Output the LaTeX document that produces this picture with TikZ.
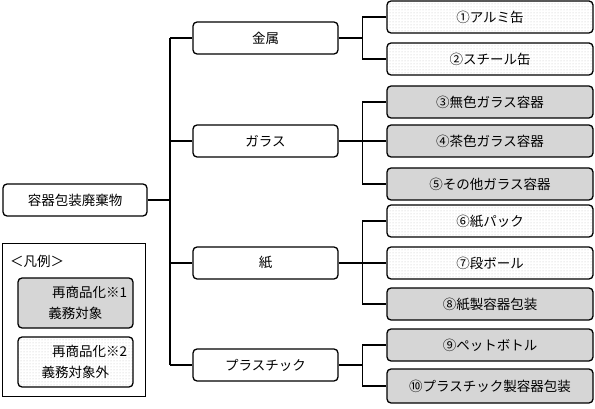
\documentclass[tikz,border=0pt]{standalone}
\usepackage{fontspec}
\setmainfont{Noto Sans CJK JP}
\usetikzlibrary{patterns,calc}

\begin{document}
\begin{tikzpicture}[
    x=1pt, y=-1pt,
    font=\fontsize{13.5}{16}\selectfont,
    box/.style={
        draw,
        rounded corners=4pt,
        line width=1.3pt,
        minimum height=32pt,
        inner sep=2pt,
        align=center
    },
    rootbox/.style={box, minimum width=144pt, fill=white},
    catbox/.style={box, minimum width=145pt, fill=white},
    dotbox/.style={box, minimum width=206pt, pattern=dots, pattern color=black!25},
    graybox/.style={box, minimum width=206pt, fill=black!16},
    link/.style={line width=1.2pt}
]
\useasboundingbox (0,0) rectangle (595,409);

% root and categories
\node[rootbox] (waste) at (75,200) {容器包装廃棄物};
\node[catbox] (metal) at (265.5,38) {金属};
\node[catbox] (glass) at (265.5,141) {ガラス};
\node[catbox] (paper) at (265.5,263) {紙};
\node[catbox] (plastic) at (265.5,365) {プラスチック};

% items
\node[dotbox] (alu) at (490,17) {①アルミ缶};
\node[dotbox] (steel) at (490,59) {②スチール缶};
\node[graybox] (clear) at (490,102) {③無色ガラス容器};
\node[graybox] (brown) at (490,141) {④茶色ガラス容器};
\node[graybox] (oglass) at (490,184) {⑤その他ガラス容器};
\node[dotbox] (pack) at (490,221) {⑥紙パック};
\node[dotbox] (board) at (490,263) {⑦段ボール};
\node[graybox] (ppack) at (490,304) {⑧紙製容器包装};
\node[graybox] (pet) at (490,345) {⑨ペットボトル};
\node[graybox, minimum height=34pt] (plpack) at (490,386) {⑩プラスチック製容器包装};

% trunk
\coordinate (trunk) at (170,200);
\draw[link] (waste.east) -- (trunk);
\draw[link] (trunk |- metal.west) -- (trunk |- plastic.west);
\foreach \c in {metal,glass,paper,plastic}
    \draw[link] (trunk |- \c.west) -- (\c.west);

% branches
\coordinate (bmetal) at ($(metal.east)+(24,0)$);
\coordinate (bglass) at ($(glass.east)+(24,0)$);
\coordinate (bpaper) at ($(paper.east)+(24,0)$);
\coordinate (bplastic) at ($(plastic.east)+(24,0)$);

\draw[link] (metal.east) -- (bmetal);
\draw[link] (alu.west) -| (bmetal) |- (steel.west);

\draw[link] (glass.east) -- (brown.west);
\draw[link] (clear.west) -| (bglass) |- (oglass.west);

\draw[link] (paper.east) -- (board.west);
\draw[link] (pack.west) -| (bpaper) |- (ppack.west);

\draw[link] (plastic.east) -- (bplastic);
\draw[link] (pet.west) -| (bplastic) |- (plpack.west);

% legend
\node[draw, line width=1.3pt, minimum width=143pt, minimum height=153pt] (legend) at (74,320) {};
\node (legendtitle) at (37,261) {＜凡例＞};
\node[box, minimum width=115pt, minimum height=50pt, fill=black!16,
      font=\fontsize{13.5}{21}\selectfont] (legA) at (75.5,303)
    {\hspace*{2.1em}再商品化※1\\義務対象};
\node[box, minimum width=115pt, minimum height=50pt, pattern=dots, pattern color=black!25,
      font=\fontsize{13.5}{21}\selectfont] (legB) at (75.5,362)
    {\hspace*{2.1em}再商品化※2\\義務対象外};

\end{tikzpicture}
\end{document}
